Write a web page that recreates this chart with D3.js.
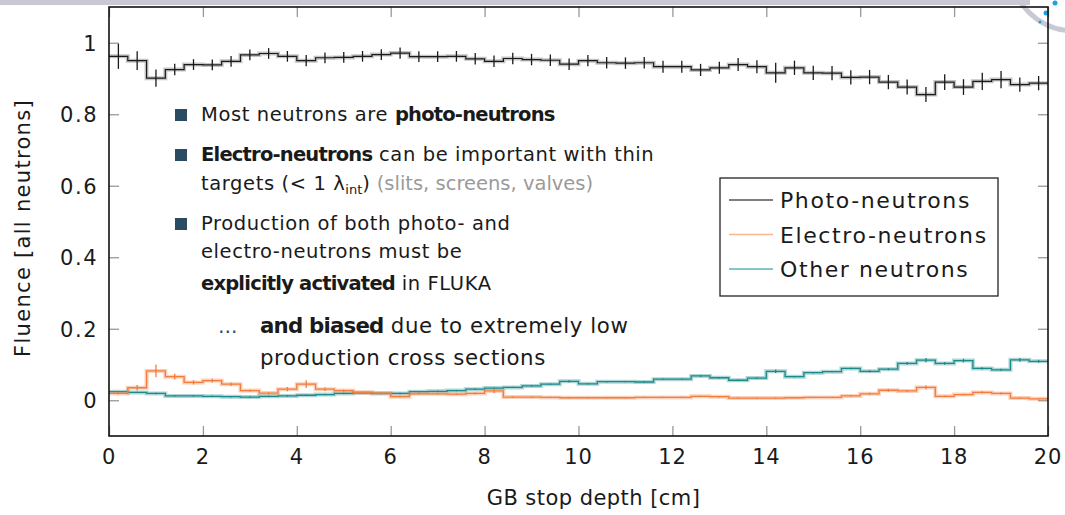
<!DOCTYPE html>
<html>
<head>
<meta charset="utf-8">
<script src="https://cdn.jsdelivr.net/npm/d3@7"></script>
<style>
  body { margin: 0; background: #fff; }
  svg text { font-family: "DejaVu Sans", sans-serif; fill: #1a1a1a; }
</style>
</head>
<body>
<div id="chart"></div>
<script>
// 50 bins of 0.4 cm from 0 to 20 cm
const binWidth = 0.4;
const xTicks = [0, 2, 4, 6, 8, 10, 12, 14, 16, 18, 20];
const yTicks = [0, 0.2, 0.4, 0.6, 0.8, 1];
const yTickLabels = ["0", "0.2", "0.4", "0.6", "0.8", "1"];

const photoValues = [
    0.962, 0.950, 0.901, 0.925, 0.939, 0.938, 0.948, 0.966, 0.970, 0.962,
    0.950, 0.958, 0.959, 0.962, 0.967, 0.971, 0.961, 0.961, 0.962, 0.955,
    0.948, 0.956, 0.953, 0.951, 0.940, 0.950, 0.944, 0.943, 0.944, 0.933,
    0.933, 0.924, 0.930, 0.939, 0.933, 0.916, 0.930, 0.916, 0.915, 0.903,
    0.904, 0.890, 0.876, 0.855, 0.890, 0.876, 0.892, 0.897, 0.883, 0.887
];
const photoErrors = [
    0.035, 0.026, 0.024, 0.016, 0.015, 0.015, 0.015, 0.015, 0.015, 0.015,
    0.016, 0.015, 0.015, 0.015, 0.015, 0.016, 0.015, 0.015, 0.015, 0.016,
    0.016, 0.016, 0.016, 0.016, 0.016, 0.016, 0.016, 0.016, 0.016, 0.017,
    0.017, 0.017, 0.017, 0.018, 0.018, 0.028, 0.020, 0.020, 0.020, 0.020,
    0.020, 0.020, 0.021, 0.021, 0.022, 0.022, 0.024, 0.024, 0.020, 0.020
];
const electroValues = [
    0.019, 0.035, 0.082, 0.066, 0.050, 0.055, 0.045, 0.027, 0.020, 0.031,
    0.045, 0.031, 0.027, 0.022, 0.020, 0.010, 0.018, 0.018, 0.017, 0.019,
    0.026, 0.009, 0.009, 0.008, 0.007, 0.007, 0.007, 0.007, 0.008, 0.008,
    0.008, 0.011, 0.010, 0.006, 0.006, 0.006, 0.007, 0.008, 0.008, 0.012,
    0.018, 0.028, 0.026, 0.036, 0.011, 0.016, 0.022, 0.019, 0.006, 0.004
];
const electroErrors = [
    0.003, 0.008, 0.018, 0.008, 0.006, 0.005, 0.005, 0.003, 0.003, 0.006,
    0.011, 0.005, 0.003, 0.003, 0.002, 0.002, 0.002, 0.002, 0.002, 0.003,
    0.006, 0.002, 0.002, 0.002, 0.002, 0.002, 0.002, 0.002, 0.002, 0.002,
    0.002, 0.002, 0.002, 0.002, 0.002, 0.002, 0.002, 0.002, 0.002, 0.002,
    0.003, 0.004, 0.003, 0.005, 0.002, 0.002, 0.003, 0.003, 0.002, 0.002
];
const otherValues = [
    0.024, 0.022, 0.019, 0.012, 0.012, 0.011, 0.010, 0.009, 0.011, 0.012,
    0.014, 0.016, 0.019, 0.021, 0.019, 0.019, 0.024, 0.025, 0.027, 0.031,
    0.034, 0.036, 0.040, 0.045, 0.053, 0.046, 0.052, 0.052, 0.051, 0.059,
    0.059, 0.068, 0.063, 0.056, 0.062, 0.081, 0.066, 0.077, 0.080, 0.089,
    0.081, 0.087, 0.103, 0.112, 0.103, 0.111, 0.089, 0.085, 0.113, 0.109
];
const otherErrors = [
    0.002, 0.002, 0.002, 0.002, 0.002, 0.002, 0.002, 0.002, 0.002, 0.002,
    0.002, 0.002, 0.002, 0.002, 0.002, 0.002, 0.002, 0.002, 0.002, 0.002,
    0.002, 0.002, 0.002, 0.002, 0.003, 0.002, 0.002, 0.002, 0.002, 0.002,
    0.002, 0.003, 0.002, 0.002, 0.002, 0.005, 0.002, 0.002, 0.002, 0.002,
    0.003, 0.003, 0.004, 0.006, 0.004, 0.005, 0.003, 0.003, 0.005, 0.004
];
const seriesNames = ["Photo-neutrons", "Electro-neutrons", "Other neutrons"];

const width = 1065;
const height = 515;
const margin = { top: 7, right: 17, bottom: 79, left: 109 };

const xScale = d3.scaleLinear()
    .domain([0, 20])
    .range([margin.left, width - margin.right]);

const yScale = d3.scaleLinear()
    .domain([-0.1, 1.1])
    .range([height - margin.bottom, margin.top]);

const svg = d3.select("#chart")
    .append("svg")
    .attr("width", width)
    .attr("height", height);

svg.append("rect").attr("width", width).attr("height", height).attr("fill", "#fff");

// slide header bar and logo arc
svg.append("rect")
    .attr("x", 0).attr("y", 0)
    .attr("width", 1030).attr("height", 5)
    .attr("fill", "#c9c9d3");
svg.append("circle")
    .attr("cx", 1075).attr("cy", -35).attr("r", 66)
    .attr("fill", "none").attr("stroke", "#c9c9d3").attr("stroke-width", 5);
[[1046, 13, 2.5], [1040, 22, 1.5], [1055, 3, 2.5]].forEach(d => {
    svg.append("circle").attr("cx", d[0]).attr("cy", d[1]).attr("r", d[2]).attr("fill", "#1aa3dc");
});

const x0 = margin.left, x1 = width - margin.right;
const y0 = margin.top, y1 = height - margin.bottom;

// inward ticks on all four sides
const tickLen = 10;
function styleTicks(g) {
    g.select(".domain").remove();
    g.selectAll("line").attr("stroke", "#999").attr("stroke-width", 1.3);
}
svg.append("g")
    .attr("transform", `translate(0,${y1})`)
    .call(d3.axisBottom(xScale).tickValues(xTicks).tickSize(-tickLen).tickFormat(""))
    .call(styleTicks);
svg.append("g")
    .attr("transform", `translate(0,${y0})`)
    .call(d3.axisTop(xScale).tickValues(xTicks).tickSize(-tickLen).tickFormat(""))
    .call(styleTicks);
svg.append("g")
    .attr("transform", `translate(${x0},0)`)
    .call(d3.axisLeft(yScale).tickValues(yTicks).tickSize(-tickLen).tickFormat(""))
    .call(styleTicks);
svg.append("g")
    .attr("transform", `translate(${x1},0)`)
    .call(d3.axisRight(yScale).tickValues(yTicks).tickSize(-tickLen).tickFormat(""))
    .call(styleTicks);

// tick labels
svg.append("g")
    .selectAll("text")
    .data(xTicks)
    .enter()
    .append("text")
    .attr("x", d => xScale(d))
    .attr("y", y1 + 28)
    .attr("text-anchor", "middle")
    .attr("font-size", 21)
    .attr("letter-spacing", 0.8)
    .text(d => d);
svg.append("g")
    .selectAll("text")
    .data(yTicks)
    .enter()
    .append("text")
    .attr("x", x0 - 11)
    .attr("y", d => yScale(d) + 8)
    .attr("text-anchor", "end")
    .attr("font-size", 21)
    .attr("letter-spacing", 1.5)
    .text((d, i) => yTickLabels[i]);

svg.append("text")
    .attr("x", (x0 + x1) / 2 + 15)
    .attr("y", 505)
    .attr("text-anchor", "middle")
    .attr("font-size", 21)
    .attr("letter-spacing", 0.45)
    .text("GB stop depth [cm]");
svg.append("text")
    .attr("transform", `translate(30,${228}) rotate(-90)`)
    .attr("text-anchor", "middle")
    .attr("font-size", 21)
    .attr("letter-spacing", 1.3)
    .text("Fluence [all neutrons]");

// histograms
function stepData(values) {
    const pts = values.map((v, i) => ({ x: i * binWidth, y: v }));
    pts.push({ x: values.length * binWidth, y: values[values.length - 1] });
    return pts;
}
const stepLine = d3.line()
    .x(d => xScale(d.x))
    .y(d => yScale(d.y))
    .curve(d3.curveStepAfter);

const plot = svg.append("g");

function drawHisto(values, errors, color, bandColor, lw) {
    const pts = stepData(values);
    plot.append("path")
        .attr("d", stepLine(pts))
        .attr("fill", "none")
        .attr("stroke", bandColor)
        .attr("stroke-width", 4);
    plot.append("path")
        .attr("d", stepLine(pts))
        .attr("fill", "none")
        .attr("stroke", color)
        .attr("stroke-width", lw);
    plot.append("g")
        .selectAll("line")
        .data(values)
        .enter()
        .append("line")
        .attr("x1", (d, i) => xScale((i + 0.5) * binWidth))
        .attr("x2", (d, i) => xScale((i + 0.5) * binWidth))
        .attr("y1", (d, i) => yScale(d - errors[i]))
        .attr("y2", (d, i) => yScale(d + errors[i]))
        .attr("stroke", color)
        .attr("stroke-width", 1.3);
}

drawHisto(otherValues, otherErrors, "#1b8a8a", "rgba(27,138,138,0.35)", 1.3);
drawHisto(electroValues, electroErrors, "#f47c3c", "rgba(244,124,60,0.35)", 1.3);
drawHisto(photoValues, photoErrors, "#1a1a1a", "rgba(60,60,60,0.3)", 1.2);

// frame
svg.append("rect")
    .attr("x", x0).attr("y", y0)
    .attr("width", x1 - x0).attr("height", y1 - y0)
    .attr("fill", "none")
    .attr("stroke", "#111")
    .attr("stroke-width", 1.6);

// annotation text
const note = svg.append("g").attr("font-size", 19.5);
const bulletColor = "#2b4b63";
[121, 161, 230].forEach(b => {
    note.append("rect")
        .attr("x", 175).attr("y", b - 12)
        .attr("width", 12).attr("height", 12)
        .attr("fill", bulletColor);
});

function richLine(x, y, parts) {
    const t = note.append("text").attr("x", x).attr("y", y);
    parts.forEach(p => {
        const s = t.append("tspan").text(p.t);
        if (p.b) s.attr("font-weight", "bold").attr("letter-spacing", -0.8);
        else s.attr("letter-spacing", p.ls !== undefined ? p.ls : 0.6);
        if (p.c) s.style("fill", p.c);
        if (p.sub) s.attr("font-size", 13).attr("dy", 4).attr("letter-spacing", 0);
        if (p.up) s.attr("dy", -4);
    });
    return t;
}
richLine(201, 121, [{ t: "Most neutrons are " }, { t: "photo-neutrons", b: true }]);
richLine(201, 161, [{ t: "Electro-neutrons", b: true }, { t: " can be important with thin" }]);
richLine(201, 190, [{ t: "targets (< 1 " }, { t: "λ", c: "#1a1a1a" }, { t: "int", sub: true }, { t: ")", up: true },
    { t: " (slits, screens, valves)", c: "#9a9a9a", ls: 0 }]);
richLine(201, 230, [{ t: "Production of both photo- and" }]);
richLine(201, 258, [{ t: "electro-neutrons must be" }]);
richLine(201, 290, [{ t: "explicitly activated", b: true }, { t: " in FLUKA" }]);
richLine(218, 333, [{ t: "…", c: bulletColor }]).attr("letter-spacing", 2);
richLine(260, 333, [{ t: "and biased", b: true }, { t: " due to extremely low" }]).attr("font-size", 21.3);
richLine(260, 365, [{ t: "production cross sections" }]).attr("font-size", 21.3);

// legend
const legend = svg.append("g").attr("transform", "translate(720,178)");
legend.append("rect")
    .attr("width", 278).attr("height", 118)
    .attr("fill", "#fff")
    .attr("stroke", "#222")
    .attr("stroke-width", 1.3);
const legendColors = ["#555", "#fbb592", "#5cb5b5"];
seriesNames.forEach((name, i) => {
    const yy = 22 + i * 34.5;
    legend.append("line")
        .attr("x1", 9).attr("x2", 53)
        .attr("y1", yy).attr("y2", yy)
        .attr("stroke", legendColors[i])
        .attr("stroke-width", 1.6);
    legend.append("text")
        .attr("x", 60).attr("y", yy + 8)
        .attr("font-size", 22)
        .attr("letter-spacing", 1.6)
        .text(name);
});
</script>
</body>
</html>
